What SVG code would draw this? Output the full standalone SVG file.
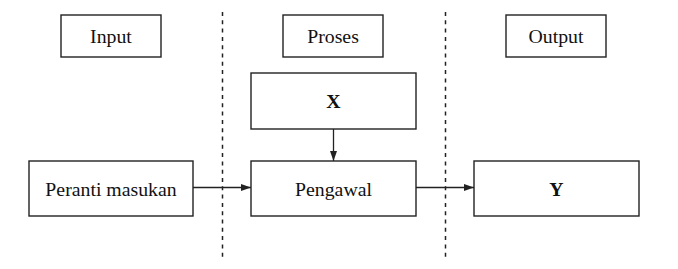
<svg xmlns="http://www.w3.org/2000/svg" width="678" height="269" viewBox="0 0 678 269">
<style>
.box{fill:#fff;stroke:#222;stroke-width:1.4}
.t{font-family:"Liberation Serif","Times New Roman",serif;font-size:19.8px;fill:#111;text-anchor:middle}
.b{font-weight:bold}
.c{stroke:#222;stroke-width:1.3;fill:none}
.d{stroke:#222;stroke-width:1.5;stroke-dasharray:4 4.3;fill:none}
</style>
<defs>
<marker id="ah" viewBox="0 0 10 10" refX="10" refY="5" markerWidth="10" markerHeight="10" markerUnits="userSpaceOnUse" orient="auto">
<path d="M0,1.5 L10,5 L0,8.5 Z" fill="#222"/>
</marker>
</defs>
<rect width="678" height="269" fill="#fff"/>
<g id="dividers">
<line class="d" x1="222.5" y1="12" x2="222.5" y2="258"/>
<line class="d" x1="445.5" y1="12" x2="445.5" y2="258"/>
</g>
<g id="input"><rect class="box" x="61" y="15" width="100" height="42"/><text class="t" x="111" y="43">Input</text></g>
<g id="proses"><rect class="box" x="283" y="15" width="100" height="42"/><text class="t" x="333" y="43">Proses</text></g>
<g id="output"><rect class="box" x="506" y="15" width="100" height="42"/><text class="t" x="556" y="43">Output</text></g>
<g id="x"><rect class="box" x="251" y="73" width="165" height="56"/><text class="t b" x="333.5" y="108">X</text></g>
<g id="peranti"><rect class="box" x="29" y="161" width="164" height="55"/><text class="t" x="111" y="196">Peranti masukan</text></g>
<g id="pengawal"><rect class="box" x="251" y="161" width="165" height="55"/><text class="t" x="333.5" y="196">Pengawal</text></g>
<g id="y"><rect class="box" x="474" y="161" width="165" height="55"/><text class="t b" x="556.5" y="196">Y</text></g>
<g id="connectors">
<line class="c" x1="193" y1="187.5" x2="251" y2="187.5" marker-end="url(#ah)"/>
<line class="c" x1="416" y1="187.5" x2="474" y2="187.5" marker-end="url(#ah)"/>
<line class="c" x1="333.5" y1="129" x2="333.5" y2="161" marker-end="url(#ah)"/>
</g>
</svg>
